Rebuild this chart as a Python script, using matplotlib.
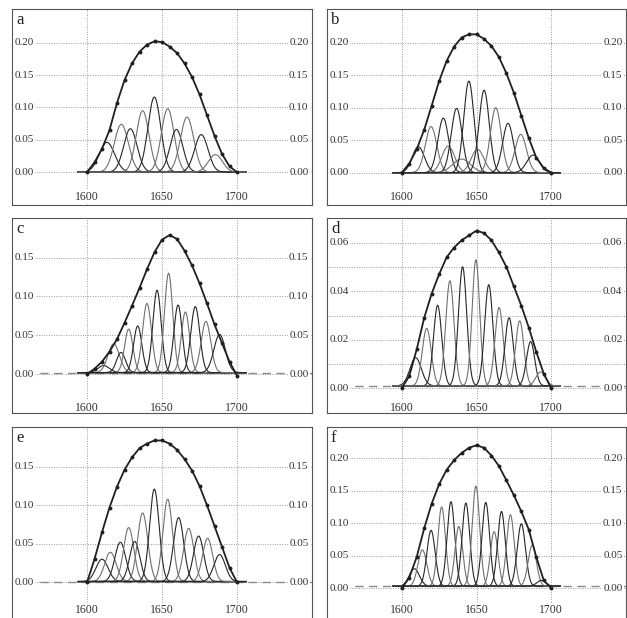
import numpy as np
import matplotlib
matplotlib.use('Agg')
import matplotlib.pyplot as plt
from matplotlib.transforms import blended_transform_factory

plt.rcParams['font.family'] = ['Liberation Serif', 'DejaVu Serif']

# ---------------- data ----------------
panel_letters = ['a', 'b', 'c', 'd', 'e', 'f']
x_ticks = [1600, 1650, 1700]
env_wn = [1600, 1605, 1610, 1615, 1620, 1625, 1630, 1635, 1640, 1645, 1650,
          1655, 1660, 1665, 1670, 1675, 1680, 1685, 1690, 1695, 1700]

# panel a
a_centers = [1613.3, 1622.9, 1628.9, 1637.1, 1644.9, 1653.8, 1659.6, 1666.7, 1676.2, 1685.6]
a_heights = [0.046, 0.074, 0.067, 0.095, 0.116, 0.098, 0.066, 0.085, 0.058, 0.027]
a_fwhm = [12.0, 11.0, 10.5, 10.0, 10.0, 10.0, 10.0, 10.5, 10.5, 11.0]
a_env = [0.000, 0.015, 0.036, 0.065, 0.107, 0.142, 0.168, 0.186, 0.197, 0.202, 0.201,
         0.194, 0.184, 0.168, 0.147, 0.120, 0.088, 0.056, 0.028, 0.009, 0.000]
a_yticks = [0.00, 0.05, 0.10, 0.15, 0.20]

# panel b
b_centers = [1611.1, 1619.6, 1627.8, 1631.1, 1636.7, 1640.0, 1644.9, 1650.7, 1655.1,
             1662.9, 1671.1, 1679.6, 1687.8]
b_heights = [0.040, 0.071, 0.084, 0.041, 0.099, 0.021, 0.141, 0.036, 0.127,
             0.100, 0.076, 0.059, 0.027]
b_fwhm = [9.5, 9.0, 8.5, 10.0, 8.5, 14.0, 8.0, 10.0, 8.0, 8.5, 8.5, 9.0, 10.0]
b_env = [0.000, 0.014, 0.036, 0.066, 0.103, 0.141, 0.172, 0.194, 0.208, 0.213, 0.213,
         0.206, 0.195, 0.178, 0.153, 0.123, 0.088, 0.053, 0.023, 0.007, 0.000]
b_yticks = [0.00, 0.05, 0.10, 0.15, 0.20]

# panel c
c_centers = [1611.1, 1617.8, 1622.7, 1627.8, 1633.8, 1640.0, 1646.7, 1654.4, 1660.7,
             1665.6, 1672.2, 1679.3, 1688.4]
c_heights = [0.009, 0.037, 0.026, 0.056, 0.060, 0.089, 0.106, 0.128, 0.087,
             0.078, 0.085, 0.066, 0.049]
c_fwhm = [9.0, 9.0, 7.0, 6.5, 6.5, 7.0, 6.5, 6.5, 6.5, 6.5, 7.0, 7.5, 9.0]
c_env = [0.000, 0.007, 0.016, 0.029, 0.045, 0.066, 0.088, 0.111, 0.135, 0.157, 0.173,
         0.179, 0.174, 0.159, 0.140, 0.117, 0.091, 0.064, 0.040, 0.016, -0.002]
c_yticks = [0.00, 0.05, 0.10, 0.15]
c_baseline = 0.002

# panel d
d_centers = [1609.3, 1616.7, 1624.0, 1632.2, 1640.7, 1649.6, 1658.2, 1665.1, 1671.8,
             1678.9, 1686.2, 1692.9]
d_heights = [0.0116, 0.0237, 0.0332, 0.0433, 0.0491, 0.0520, 0.0417, 0.0323, 0.0281,
             0.0268, 0.0182, 0.0057]
d_fwhm = [9.0, 7.0, 6.5, 6.5, 6.5, 6.0, 6.5, 6.5, 6.5, 6.5, 6.5, 7.5]
d_env = [0.000, 0.005, 0.016, 0.029, 0.039, 0.047, 0.054, 0.058, 0.061, 0.063, 0.065,
         0.064, 0.061, 0.056, 0.050, 0.042, 0.034, 0.025, 0.015, 0.006, 0.000]
d_yticks = [0.00, 0.02, 0.04, 0.06]
d_minor = [0.01, 0.03, 0.05]
d_baseline = 0.001

# panel e
e_centers = [1610.0, 1615.6, 1622.2, 1627.8, 1631.8, 1637.1, 1644.9, 1653.8, 1661.1,
             1667.8, 1674.4, 1680.4, 1688.4]
e_heights = [0.029, 0.038, 0.051, 0.070, 0.052, 0.089, 0.120, 0.107, 0.083,
             0.069, 0.059, 0.056, 0.035]
e_fwhm = [9.5, 9.0, 8.5, 8.0, 8.0, 8.0, 7.5, 7.5, 8.0, 8.0, 8.0, 8.0, 9.0]
e_env = [0.000, 0.030, 0.065, 0.097, 0.124, 0.146, 0.162, 0.174, 0.180, 0.184, 0.184,
         0.180, 0.172, 0.160, 0.145, 0.125, 0.100, 0.073, 0.046, 0.019, 0.000]
e_yticks = [0.00, 0.05, 0.10, 0.15]
e_baseline = 0.001

# panel f
f_centers = [1608.4, 1613.8, 1619.6, 1626.7, 1632.9, 1638.2, 1642.9, 1649.6, 1656.2,
             1661.8, 1666.7, 1672.7, 1680.0, 1687.3, 1693.3]
f_heights = [0.027, 0.056, 0.086, 0.122, 0.130, 0.092, 0.128, 0.154, 0.129,
             0.084, 0.115, 0.110, 0.096, 0.063, 0.009]
f_fwhm = [8.0, 7.0, 6.5, 6.0, 6.0, 6.0, 6.0, 6.0, 6.0, 6.0, 6.0, 6.0, 6.5, 6.5, 7.0]
f_env = [0.000, 0.016, 0.048, 0.092, 0.130, 0.160, 0.182, 0.197, 0.208, 0.216, 0.220,
         0.216, 0.204, 0.188, 0.166, 0.143, 0.118, 0.090, 0.048, 0.012, 0.000]
f_yticks = [0.00, 0.05, 0.10, 0.15, 0.20]
f_baseline = 0.003

# ---------------- figure ----------------
fig = plt.figure(figsize=(6.27, 6.18), dpi=100)

col_left = [12 / 627, 327 / 627]
col_w = [300 / 627, 299 / 627]
row_bottom = [1 - 204.5 / 618, 1 - 413 / 618, 1 - 622 / 618]
row_h = [195.5 / 618, 195 / 618, 195 / 618]
xlabel_y = [0.040, 0.028, 0.062]

panels = [
    dict(c=a_centers, h=a_heights, w=a_fwhm, env=a_env, yt=a_yticks, ym=[], base=None, ylim=(-0.05, 0.252)),
    dict(c=b_centers, h=b_heights, w=b_fwhm, env=b_env, yt=b_yticks, ym=[], base=None, ylim=(-0.049, 0.252)),
    dict(c=c_centers, h=c_heights, w=c_fwhm, env=c_env, yt=c_yticks, ym=[], base=c_baseline, ylim=(-0.05, 0.201)),
    dict(c=d_centers, h=d_heights, w=d_fwhm, env=d_env, yt=d_yticks, ym=d_minor, base=d_baseline, ylim=(-0.0102, 0.0702)),
    dict(c=e_centers, h=e_heights, w=e_fwhm, env=e_env, yt=e_yticks, ym=[], base=e_baseline, ylim=(-0.0515, 0.2015)),
    dict(c=f_centers, h=f_heights, w=f_fwhm, env=f_env, yt=f_yticks, ym=[], base=f_baseline, ylim=(-0.052, 0.248)),
]

xs = np.arange(1594, 1706.01, 0.25)
comp_colors = ['#262626', '#707070']
grid_kw = dict(color='#9a9a9a', linestyle=(0, (1, 1.5)), linewidth=0.7)
lbl_bbox = dict(boxstyle='square,pad=0.1', fc='white', ec='none')

for i, p in enumerate(panels):
    r, ccol = divmod(i, 2)
    ax = fig.add_axes([col_left[ccol], row_bottom[r], col_w[ccol], row_h[r]])
    ax.set_xlim(1550, 1750)
    ax.set_ylim(*p['ylim'])
    ax.set_xticks(x_ticks)
    ax.set_yticks(p['yt'])
    if p['ym']:
        ax.set_yticks(p['ym'], minor=True)
        ax.grid(True, which='minor', axis='y', **grid_kw)
    ax.grid(True, which='major', **grid_kw)
    ax.set_axisbelow(True)
    ax.tick_params(which='both', length=0, labelbottom=False, labelleft=False)
    for s in ax.spines.values():
        s.set_color('#555555')
        s.set_linewidth(0.8)
        s.set_zorder(10)

    if p['base'] is not None:
        ax.axhline(p['base'], color='#8a8a8a', lw=1.0, dashes=(6, 4), zorder=1.5)

    base = p['base'] if p['base'] is not None else 0.0
    for k, (c, h, w) in enumerate(zip(p['c'], p['h'], p['w'])):
        ys = base + h * np.exp(-4 * np.log(2) * ((xs - c) / w) ** 2)
        ax.plot(xs, ys, color=comp_colors[k % 2], lw=0.8, zorder=2)

    ax.plot(env_wn, p['env'], color='#202020', lw=1.3, marker='o', ms=1.8,
            mec='#202020', mfc='#202020', zorder=3)

    ytr = blended_transform_factory(ax.transAxes, ax.transData)
    for yv in p['yt']:
        ax.text(0.008, yv, f"{yv:.2f}", transform=ytr, ha='left', va='center',
                fontsize=8, color='#333333', bbox=lbl_bbox, zorder=4)
        ax.text(0.988, yv, f"{yv:.2f}", transform=ytr, ha='right', va='center',
                fontsize=8, color='#333333', bbox=lbl_bbox, zorder=4)
    xtr = blended_transform_factory(ax.transData, ax.transAxes)
    for xv in x_ticks:
        ax.text(xv, xlabel_y[r], str(xv), transform=xtr, ha='center', va='center',
                fontsize=8.5, color='#333333', bbox=lbl_bbox, zorder=4)

    ax.text(0.013, 0.985, panel_letters[i], transform=ax.transAxes, ha='left', va='top',
            fontsize=12, color='#222222', zorder=5)

fig.savefig('out.png', dpi=100, facecolor='white')
